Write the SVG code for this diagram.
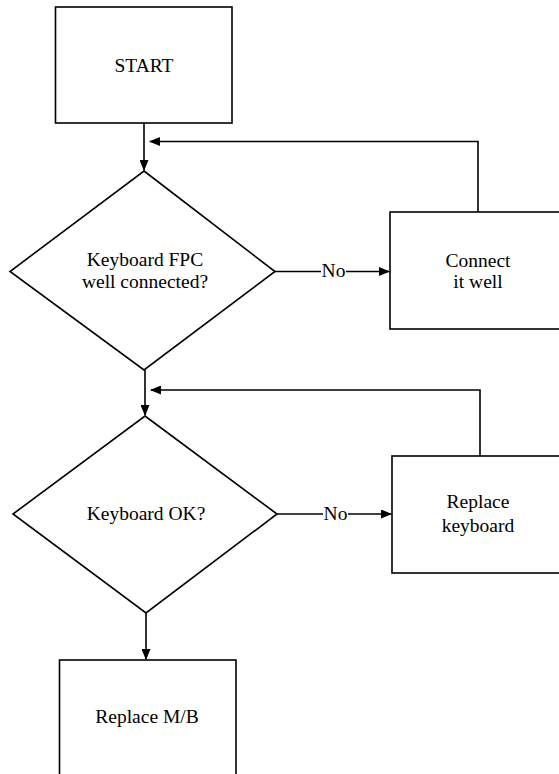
<svg xmlns="http://www.w3.org/2000/svg" width="559" height="774" viewBox="0 0 559 774" font-family="'Liberation Serif', 'Times New Roman', Times, serif" font-size="19.5" text-anchor="middle">
<style>
.s{fill:#fff;stroke:#000;stroke-width:1.6}
.c{fill:none;stroke:#000;stroke-width:1.6}
text{fill:#000}
</style>
<defs>
<marker id="ah" markerWidth="11" markerHeight="9" refX="10" refY="4.5" orient="auto" markerUnits="userSpaceOnUse">
<path d="M0,0 L11,4.5 L0,9 Z" fill="#000"/>
</marker>
</defs>
<g id="connectors">
<line class="c" x1="144" y1="123" x2="144" y2="170" marker-end="url(#ah)"/>
<polyline class="c" points="478,212 478,141.5 150,141.5" marker-end="url(#ah)"/>
<line class="c" x1="275" y1="271.5" x2="321" y2="271.5"/>
<line class="c" x1="346" y1="271.5" x2="389" y2="271.5" marker-end="url(#ah)"/>
<text x="333.5" y="277">No</text>
<line class="c" x1="145" y1="370" x2="145" y2="415" marker-end="url(#ah)"/>
<polyline class="c" points="480,456 480,390 151,390" marker-end="url(#ah)"/>
<line class="c" x1="277" y1="514" x2="323" y2="514"/>
<line class="c" x1="348" y1="514" x2="391" y2="514" marker-end="url(#ah)"/>
<text x="335.5" y="520">No</text>
<line class="c" x1="146" y1="613" x2="146" y2="659" marker-end="url(#ah)"/>
</g>
<g id="start">
<rect class="s" x="55.5" y="7" width="176.5" height="116"/>
<text x="144" y="71.5">START</text>
</g>
<g id="decision1">
<polygon class="s" points="144,171 275,271.5 144,370 10,271.5"/>
<text x="145" y="266">Keyboard FPC</text>
<text x="145" y="288">well connected?</text>
</g>
<g id="connect">
<rect class="s" x="390" y="212" width="176" height="117"/>
<text x="478" y="266.5">Connect</text>
<text x="478" y="287.5">it well</text>
</g>
<g id="decision2">
<polygon class="s" points="145,416 277,514 146,613 13,514"/>
<text x="146" y="520">Keyboard OK?</text>
</g>
<g id="replaceKb">
<rect class="s" x="392" y="456" width="176" height="117"/>
<text x="478" y="508">Replace</text>
<text x="478" y="531.5">keyboard</text>
</g>
<g id="replaceMB">
<rect class="s" x="59.5" y="660" width="176.5" height="130"/>
<text x="147" y="723">Replace M/B</text>
</g>
</svg>
